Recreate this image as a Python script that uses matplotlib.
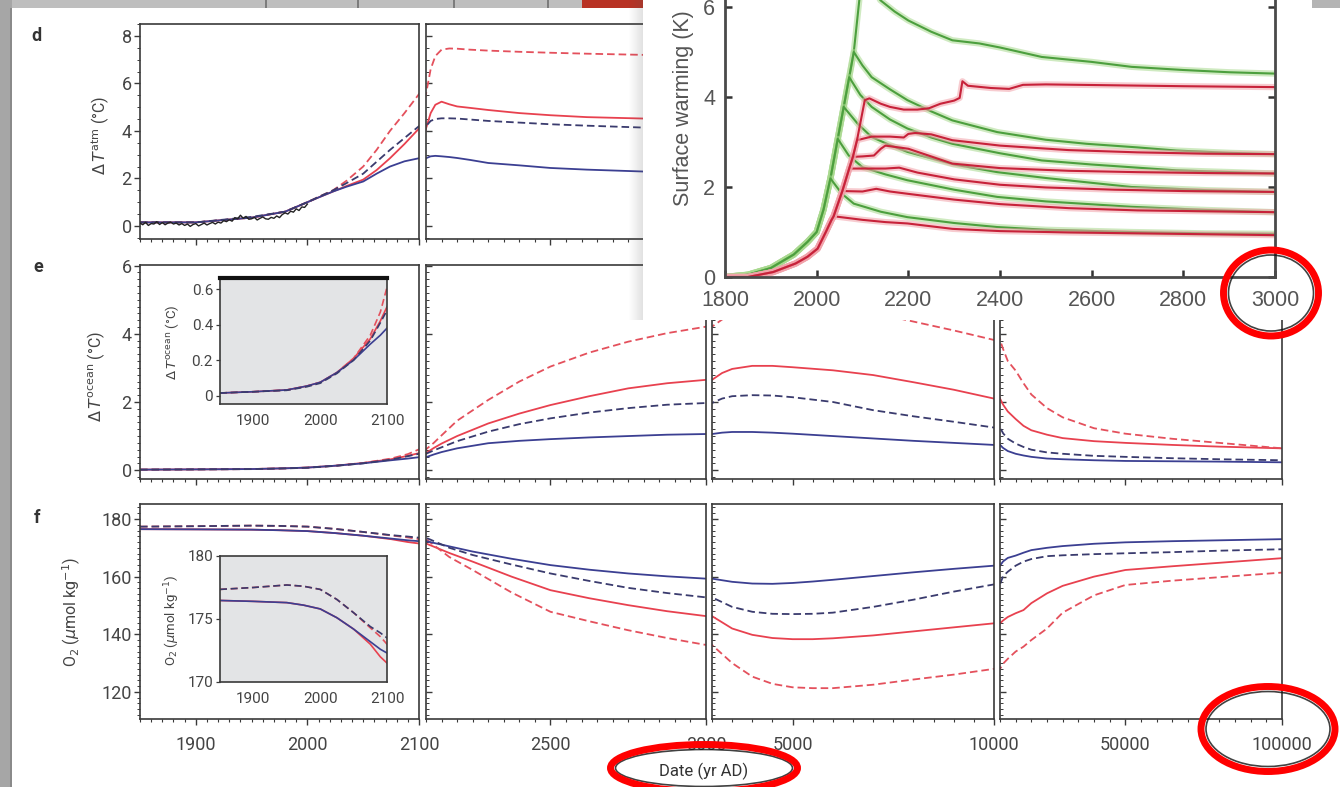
import numpy as np
import matplotlib
matplotlib.use("Agg")
import matplotlib.pyplot as plt
from matplotlib.patches import Rectangle, Ellipse
from matplotlib.ticker import FixedLocator, MultipleLocator

plt.rcParams.update({
    "font.family": ["Roboto", "DejaVu Sans"],
    "mathtext.fontset": "dejavusans",
    "axes.linewidth": 1.2,
    "axes.edgecolor": "#3a3a3a",
    "xtick.color": "#3a3a3a", "ytick.color": "#3a3a3a",
    "xtick.labelcolor": "#444444", "ytick.labelcolor": "#444444",
})

W, H = 1340, 787

# ---- panel d: atmospheric warming (deg C) ----
D_YR = [1850, 1900, 1950, 1980, 2000, 2010, 2023, 2035, 2050, 2062, 2074, 2087, 2100,
        2115, 2130, 2150, 2175, 2200, 2241, 2300, 2400, 2500, 2617, 2800, 3000]
D_RED_SOLID = [0.15, 0.15, 0.35, 0.6, 1.0, 1.2, 1.45, 1.68, 1.95, 2.35, 2.85, 3.45, 4.1,
               4.75, 5.1, 5.23, 5.12, 5.03, 4.97, 4.88, 4.75, 4.66, 4.58, 4.52, 4.45]
D_RED_DASH = [0.15, 0.15, 0.35, 0.6, 1.0, 1.22, 1.5, 1.9, 2.5, 3.2, 4.0, 4.75, 5.55,
              6.6, 7.15, 7.42, 7.47, 7.46, 7.42, 7.38, 7.33, 7.29, 7.25, 7.2, 7.15]
D_BLUE_SOLID = [0.15, 0.15, 0.35, 0.6, 1.0, 1.2, 1.45, 1.65, 1.87, 2.2, 2.5, 2.72, 2.85,
                2.93, 2.95, 2.93, 2.9, 2.86, 2.78, 2.65, 2.55, 2.44, 2.37, 2.29, 2.2]
D_BLUE_DASH = [0.15, 0.15, 0.38, 0.6, 1.0, 1.22, 1.5, 1.8, 2.2, 2.7, 3.2, 3.7, 4.2,
               4.42, 4.5, 4.53, 4.53, 4.52, 4.48, 4.42, 4.35, 4.28, 4.22, 4.14, 4.08]

OBS_YR = np.arange(1850, 2000.1, 2.5)
OBS_TATM = [0.12, 0.05, 0.15, 0.02, 0.10, 0.08, 0.18, 0.06, 0.14, 0.05, 0.12, 0.16,
            0.08, 0.12, 0.04, 0.10, 0.02, 0.08, -0.02, 0.06, 0.10, 0.00, 0.06, 0.12,
            0.04, 0.10, 0.15, 0.08, 0.16, 0.12, 0.22, 0.18, 0.26, 0.20, 0.35, 0.30,
            0.45, 0.32, 0.40, 0.28, 0.30, 0.36, 0.25, 0.32, 0.38, 0.30, 0.28, 0.36,
            0.32, 0.42, 0.35, 0.48, 0.55, 0.50, 0.62, 0.58, 0.72, 0.65, 0.80, 0.78, 0.92]

# ---- panel e: ocean warming (deg C) ----
E_YR = [1850, 1900, 1950, 1980, 2000, 2025, 2050, 2075, 2090, 2100,
        2125, 2150, 2200, 2300, 2400, 2500, 2625, 2750, 2875, 3000,
        3250, 3500, 4000, 4500, 5000, 6000, 7000, 8000, 9000, 10000,
        11000, 12500, 15000, 17500, 20000, 25000, 30000, 40000, 50000, 65000, 80000, 100000]
E_RED_SOLID = [0.015, 0.022, 0.032, 0.054, 0.075, 0.13, 0.21, 0.32, 0.42, 0.5,
               0.65, 0.78, 1.0, 1.37, 1.66, 1.91, 2.17, 2.4, 2.55, 2.65,
               2.85, 2.97, 3.06, 3.06, 3.02, 2.93, 2.79, 2.58, 2.36, 2.1,
               1.92, 1.72, 1.5, 1.3, 1.17, 1.04, 0.94, 0.85, 0.8, 0.74, 0.69, 0.64]
E_RED_DASH = [0.015, 0.022, 0.032, 0.054, 0.075, 0.13, 0.21, 0.34, 0.47, 0.61,
              0.8, 1.02, 1.45, 2.06, 2.6, 3.04, 3.45, 3.77, 4.02, 4.21,
              4.42, 4.56, 4.72, 4.8, 4.82, 4.78, 4.62, 4.36, 4.1, 3.82,
              3.55, 3.2, 2.92, 2.55, 2.22, 1.82, 1.55, 1.23, 1.07, 0.92, 0.8, 0.64]
E_BLUE_SOLID = [0.015, 0.022, 0.032, 0.054, 0.075, 0.13, 0.2, 0.29, 0.34, 0.38,
                0.46, 0.53, 0.64, 0.79, 0.86, 0.91, 0.96, 1.0, 1.04, 1.06,
                1.1, 1.12, 1.12, 1.1, 1.07, 1.0, 0.93, 0.86, 0.8, 0.74,
                0.65, 0.56, 0.48, 0.43, 0.39, 0.34, 0.32, 0.29, 0.27, 0.26, 0.25, 0.23]
E_BLUE_DASH = [0.015, 0.022, 0.03, 0.05, 0.07, 0.125, 0.2, 0.31, 0.41, 0.48,
               0.58, 0.67, 0.85, 1.13, 1.35, 1.52, 1.69, 1.82, 1.92, 1.97,
               2.1, 2.17, 2.2, 2.19, 2.14, 2.0, 1.76, 1.58, 1.42, 1.25,
               1.08, 0.92, 0.78, 0.68, 0.6, 0.52, 0.48, 0.42, 0.39, 0.35, 0.32, 0.29]

# ---- panel f: ocean O2 (umol/kg) ----
F_YR = [1850, 1900, 1950, 1975, 2000, 2025, 2050, 2075, 2090, 2100,
        2175, 2250, 2375, 2500, 2625, 2750, 2875, 3000,
        3500, 4000, 4500, 5000, 5500, 6000, 7000, 8000, 9000, 10000,
        11000, 12500, 15000, 17500, 20000, 25000, 30000, 40000, 50000, 65000, 80000, 100000]
F_RED_SOLID = [176.47, 176.4, 176.3, 176.1, 175.8, 175.1, 174.2, 173.0, 172.0, 171.5,
               168.2, 165.2, 160.0, 155.3, 152.5, 150.1, 148.0, 146.3,
               142.0, 139.8, 138.7, 138.3, 138.3, 138.6, 139.6, 141.0, 142.4, 143.8,
               144.8, 146.0, 147.3, 148.4, 150.8, 154.2, 156.8, 160.0, 162.3, 163.6, 164.8, 166.4]
F_RED_DASH = [177.35, 177.5, 177.7, 177.6, 177.35, 176.55, 175.5, 174.3, 173.6, 173.0,
              166.8, 162.3, 154.5, 147.8, 144.5, 141.4, 138.7, 136.3,
              130.0, 125.3, 122.8, 121.6, 121.3, 121.3, 122.5, 124.3, 126.0, 128.0,
              129.8, 131.5, 134.0, 135.7, 138.0, 142.0, 147.5, 153.5, 157.1, 158.6, 159.8, 161.4]
F_BLUE_SOLID = [176.47, 176.4, 176.3, 176.1, 175.8, 175.1, 174.2, 173.2, 172.6, 172.3,
                170.5, 168.7, 166.2, 164.0, 162.4, 161.1, 160.1, 159.3,
                158.2, 157.6, 157.5, 157.8, 158.3, 158.9, 160.2, 161.5, 162.7, 163.8,
                165.3, 166.5, 167.3, 168.3, 169.2, 170.0, 170.6, 171.4, 171.9, 172.3, 172.6, 173.0]
F_BLUE_DASH = [177.35, 177.5, 177.7, 177.6, 177.35, 176.55, 175.5, 174.4, 173.9, 173.5,
               170.0, 167.5, 164.2, 161.1, 158.5, 156.1, 154.3, 152.8,
               149.5, 147.8, 147.1, 147.0, 147.1, 147.5, 149.5, 152.0, 154.8, 157.3,
               160.2, 161.7, 163.8, 165.2, 166.1, 167.1, 167.4, 167.8, 168.1, 168.5, 169.0, 169.5]

# ---- overlaid screenshot: surface warming (K) ----
GREEN_TRUNK_YR = [1800, 1850, 1900, 1950, 1980, 2000, 2015, 2030, 2046, 2059, 2071, 2081, 2093, 2100]
GREEN_TRUNK_K = [0.0, 0.05, 0.2, 0.5, 0.78, 1.0, 1.5, 2.19, 3.07, 3.78, 4.44, 5.0, 6.15, 6.6]
GREEN_BRANCHES = [
    ([2100, 2120, 2139, 2170, 2200, 2250, 2296, 2355, 2400, 2491, 2600, 2687, 2800, 2900, 3000],
     [6.6, 6.45, 6.15, 5.9, 5.7, 5.45, 5.26, 5.19, 5.1, 4.89, 4.78, 4.67, 4.6, 4.55, 4.52]),
    ([2081, 2100, 2120, 2160, 2198, 2250, 2296, 2394, 2500, 2589, 2700, 2785, 2900, 3000],
     [5.0, 4.7, 4.44, 4.17, 3.93, 3.68, 3.48, 3.22, 3.05, 2.96, 2.88, 2.81, 2.76, 2.73]),
    ([2071, 2095, 2120, 2160, 2198, 2250, 2296, 2400, 2491, 2600, 2785, 3000],
     [4.44, 4.05, 3.78, 3.5, 3.3, 3.1, 2.96, 2.75, 2.59, 2.5, 2.37, 2.3]),
    ([2059, 2090, 2120, 2160, 2198, 2300, 2394, 2500, 2687, 2850, 3000],
     [3.78, 3.4, 3.11, 2.93, 2.78, 2.5, 2.33, 2.2, 2.0, 1.93, 1.89]),
    ([2046, 2070, 2100, 2150, 2198, 2300, 2394, 2500, 2687, 2850, 3000],
     [3.07, 2.7, 2.44, 2.28, 2.15, 1.94, 1.78, 1.68, 1.56, 1.49, 1.44]),
    ([2030, 2055, 2081, 2140, 2198, 2300, 2394, 2500, 2687, 2850, 3000],
     [2.19, 1.85, 1.63, 1.45, 1.33, 1.2, 1.11, 1.05, 1.0, 0.97, 0.96]),
]
RED_TRUNK_YR = [1800, 1850, 1905, 1954, 1980, 2002, 2020, 2032, 2037, 2056, 2071, 2079, 2088, 2105]
RED_TRUNK_K = [0.0, 0.0, 0.11, 0.3, 0.45, 0.63, 1.0, 1.26, 1.35, 1.91, 2.41, 2.67, 3.04, 3.93]
RED_BRANCHES = [
    ([2037, 2100, 2150, 2198, 2296, 2400, 2550, 2700, 2850, 3000],
     [1.35, 1.27, 1.22, 1.19, 1.07, 1.02, 0.99, 0.97, 0.95, 0.93]),
    ([2056, 2100, 2130, 2160, 2198, 2300, 2400, 2550, 2700, 2850, 3000],
     [1.91, 1.9, 1.96, 1.9, 1.85, 1.72, 1.62, 1.53, 1.48, 1.46, 1.44]),
    ([2071, 2120, 2150, 2180, 2220, 2300, 2400, 2500, 2650, 2800, 3000],
     [2.41, 2.41, 2.41, 2.43, 2.32, 2.17, 2.05, 1.99, 1.94, 1.91, 1.89]),
    ([2079, 2100, 2125, 2140, 2150, 2200, 2296, 2400, 2550, 2700, 2850, 3000],
     [2.67, 2.68, 2.7, 2.85, 2.92, 2.85, 2.52, 2.42, 2.36, 2.33, 2.31, 2.3]),
    ([2088, 2120, 2160, 2190, 2200, 2215, 2250, 2296, 2400, 2550, 2700, 2850, 3000],
     [3.04, 3.12, 3.12, 3.1, 3.18, 3.2, 3.17, 3.04, 2.92, 2.82, 2.77, 2.74, 2.73]),
    ([2105, 2115, 2140, 2160, 2190, 2220, 2245, 2270, 2300, 2312, 2318, 2330, 2380, 2420,
      2450, 2500, 2650, 2800, 3000],
     [3.93, 3.97, 3.85, 3.78, 3.72, 3.72, 3.75, 3.85, 3.92, 3.98, 4.35, 4.25, 4.2, 4.18,
      4.27, 4.28, 4.26, 4.24, 4.22]),
]

RED, RED_D = "#e8414f", "#e4505c"
BLUE, BLUE_D = "#3b3f92", "#3a3b6e"
DASH = (0, (4.2, 2.2))

fig = plt.figure(figsize=(W / 100, H / 100), dpi=100)
fig.patch.set_facecolor("white")


def box(x0, y0, x1, y1):
    return [x0 / W, 1 - y1 / H, (x1 - x0) / W, (y1 - y0) / H]


def frect(x0, y0, x1, y1, **kw):
    fig.patches.append(Rectangle((x0 / W, 1 - y1 / H), (x1 - x0) / W, (y1 - y0) / H,
                                 transform=fig.transFigure, lw=0, **kw))


def draw_series(ax, yr, series, lw=1.3):
    (rs, rd, bs, bd) = series
    ax.plot(yr, rs, color=RED, lw=lw, solid_capstyle="butt")
    ax.plot(yr, rd, color=RED_D, lw=lw, ls=DASH)
    ax.plot(yr, bs, color=BLUE, lw=lw)
    ax.plot(yr, bd, color=BLUE_D, lw=lw, ls=DASH)


COLS = [(140, 419, (1850, 2100), [1900, 2000, 2100], 10),
        (426, 706, (2100, 3000), [2500, 3000], 50),
        (712, 994, (3000, 10000), [5000, 10000], 500),
        (1000, 1282, (10000, 100000), [50000, 100000], 5000)]
ROWS = [(24, 239, (-0.55, 8.5), [0, 2, 4, 6, 8], 0.5,
         (D_YR, (D_RED_SOLID, D_RED_DASH, D_BLUE_SOLID, D_BLUE_DASH))),
        (265, 479, (-0.26, 6.02), [0, 2, 4, 6], 0.2,
         (E_YR, (E_RED_SOLID, E_RED_DASH, E_BLUE_SOLID, E_BLUE_DASH))),
        (504, 719, (110.6, 185.2), [120, 140, 160, 180], 2,
         (F_YR, (F_RED_SOLID, F_RED_DASH, F_BLUE_SOLID, F_BLUE_DASH)))]

for r, (y0, y1, ylim, yticks, yminor, (yr, series)) in enumerate(ROWS):
    for c, (x0, x1, xlim, xticks, xminor) in enumerate(COLS):
        ax = fig.add_axes(box(x0, y0, x1, y1))
        draw_series(ax, yr, series)
        if r == 0 and c == 0:
            ax.plot(OBS_YR, OBS_TATM, color="#222222", lw=1.0, zorder=5)
        ax.set_xlim(*xlim)
        ax.set_ylim(*ylim)
        ax.xaxis.set_major_locator(FixedLocator(xticks))
        ax.xaxis.set_minor_locator(MultipleLocator(xminor))
        ax.yaxis.set_major_locator(FixedLocator(yticks))
        ax.yaxis.set_minor_locator(MultipleLocator(yminor))
        ax.tick_params(axis="x", which="major", direction="out", length=4, width=1.0,
                       labelsize=13, pad=8)
        ax.tick_params(axis="x", which="minor", direction="out", length=2.2, width=0.8)
        ax.tick_params(axis="y", which="major", direction="out" if c == 0 else "in",
                       length=4, width=1.0, labelsize=13, pad=2)
        ax.tick_params(axis="y", which="minor", direction="out" if c == 0 else "in",
                       length=2, width=0.7)
        if r == 2:
            ax.set_xticklabels([str(t) for t in xticks])
        else:
            ax.tick_params(axis="x", labelbottom=False)
        if c == 0:
            ax.set_yticklabels([str(t) for t in yticks])
        else:
            ax.tick_params(axis="y", labelleft=False)

# insets in column 1 of rows e and f
for (y0, y1, ylim, yticks, ylabs, yr, series, label, lab_y) in [
        (278, 404, (-0.047, 0.662), [0, 0.2, 0.4, 0.6], ["0", "0.2", "0.4", "0.6"],
         E_YR, (E_RED_SOLID, E_RED_DASH, E_BLUE_SOLID, E_BLUE_DASH),
         r"$\Delta\,T^{\rm ocean}$ (°C)", 342),
        (556, 682, (170, 180), [170, 175, 180], ["170", "175", "180"],
         F_YR, (F_RED_SOLID, F_RED_DASH, F_BLUE_SOLID, F_BLUE_DASH),
         r"O$_2$ ($\mu$mol kg$^{-1}$)", 620)]:
    ins = fig.add_axes(box(220, y0, 387, y1), zorder=3)
    ins.set_facecolor("#e3e4e6")
    draw_series(ins, yr, series, lw=1.2)
    ins.set_xlim(1850, 2100)
    ins.set_ylim(*ylim)
    ins.set_xticks([1900, 2000, 2100])
    ins.set_xticklabels(["1900", "2000", "2100"])
    ins.set_yticks(yticks)
    ins.set_yticklabels(ylabs)
    ins.tick_params(axis="x", length=0, labelsize=11, pad=7)
    ins.tick_params(axis="y", direction="out", length=3, width=0.9, labelsize=11, pad=2)
    if y0 == 278:
        ins.spines["top"].set_linewidth(3)
        ins.spines["top"].set_color("#111111")
    fig.text(172 / W, 1 - lab_y / H, label, rotation=90, ha="center", va="center",
             fontsize=9.5, color="#444444")

# main y labels and panel letters
fig.text(101 / W, 1 - 135 / H, r"$\Delta\,T^{\rm atm}$ (°C)", rotation=90,
         ha="center", va="center", fontsize=11.5, color="#444444")
fig.text(96 / W, 1 - 376 / H, r"$\Delta\,T^{\rm ocean}$ (°C)", rotation=90,
         ha="center", va="center", fontsize=11.5, color="#444444")
fig.text(72 / W, 1 - 612 / H, r"O$_2$ ($\mu$mol kg$^{-1}$)", rotation=90,
         ha="center", va="center", fontsize=11.5, color="#444444")
for letter, (lx, ly) in zip("def", [(36, 36), (38, 267), (37, 518)]):
    fig.text(lx / W, 1 - ly / H, letter, ha="center", va="center", fontsize=13,
             fontweight="bold", color="#333333")
fig.text(704 / W, 1 - 771 / H, "Date (yr AD)", ha="center", va="center",
         fontsize=12, color="#333333")

# page frame: grey strips of the screenshot
frect(0, 0, 643, 8, facecolor="#bebebe", zorder=1)
for xd in [265, 357, 453, 547]:
    frect(xd, 0, xd + 1.5, 8, facecolor="#7c7c7c", zorder=1.1)
frect(582, 0, 643, 8, facecolor="#b83224", zorder=1.1)
frect(1312, 0, 1340, 8, facecolor="#b4b4b4", zorder=1)
frect(0, 0, 12, H, facecolor="#a6a6a6", zorder=1)
frect(10, 8, 12, H, facecolor="#8a8a8a", zorder=1.1)

# overlay window with drop shadow
for i in range(14):
    frect(629 + i, 0, 630 + i, 320, facecolor="#555555", alpha=0.012 + 0.012 * i, zorder=4.9)
frect(643, 0, 1312, 320, facecolor="white", zorder=5)

ov = fig.add_axes(box(725, -38, 1275, 277), zorder=6)
ov.set_facecolor("white")


def glow(ax, x, y, col, halo):
    ax.plot(x, y, color=halo, lw=4.5, alpha=0.55, solid_capstyle="round")
    ax.plot(x, y, color=col, lw=1.5)


for (trunk_yr, trunk_k, branches, col, halo) in [
        (GREEN_TRUNK_YR, GREEN_TRUNK_K, GREEN_BRANCHES, "#4c9f3e", "#a9d98f"),
        (RED_TRUNK_YR, RED_TRUNK_K, RED_BRANCHES, "#c7223a", "#f2a3ab")]:
    for (byr, bk) in branches:
        pre = [(y, k) for y, k in zip(trunk_yr, trunk_k) if y < byr[0]]
        xs = [p[0] for p in pre] + list(byr)
        ys = [p[1] for p in pre] + list(bk)
        glow(ov, xs, ys, col, halo)

ov.set_xlim(1800, 3000)
ov.set_ylim(0, 7)
ov.set_xticks(range(1800, 3001, 200))
ov.set_yticks([0, 2, 4, 6])
for s in ov.spines.values():
    s.set_linewidth(2.0)
    s.set_color("#4a4a4a")
ov.tick_params(axis="both", direction="in", length=5, width=1.8, color="#333333",
               labelsize=15.5, labelcolor="#555555", right=True, labelfontfamily="Liberation Sans")
ov.tick_params(axis="x", pad=9)
ov.tick_params(axis="y", pad=7)
fig.text(683 / W, 1 - 108 / H, "Surface warming (K)", rotation=90, ha="center", va="center",
         fontsize=15.5, color="#555555", family="Liberation Sans", zorder=7)


def ring(cx, cy, w, h):
    fig.patches.append(Ellipse((cx / W, 1 - cy / H), (w - 10) / W, (h - 10) / H,
                               transform=fig.transFigure, fill=False, ec="#111111",
                               lw=1.2, alpha=0.8, zorder=10))
    fig.patches.append(Ellipse((cx / W, 1 - cy / H), w / W, h / H,
                               transform=fig.transFigure, fill=False, ec="#ff0000",
                               lw=5, zorder=11))


ring(1271, 293, 95, 86)
ring(704, 768, 187, 47)
ring(1268, 729, 134, 85)

fig.savefig("out.png", dpi=100)
